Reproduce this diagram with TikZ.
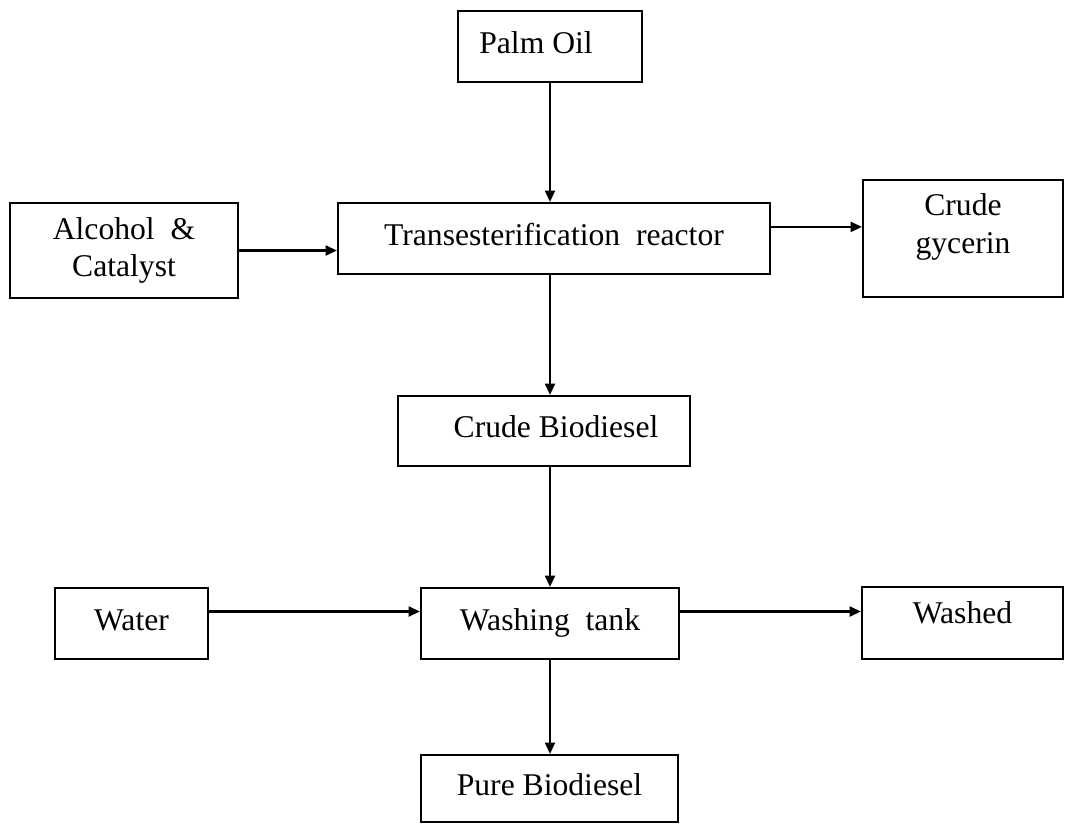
\documentclass[tikz,border=0pt]{standalone}
\usepackage{fontspec}
\setmainfont{Liberation Serif}
\usepackage{tikz}
\usetikzlibrary{arrows.meta, calc, positioning}
\tikzstyle{stage} = [rectangle, draw=black, line width=1.5pt, align=center, font=\fontsize{22.5}{26.5}\selectfont]
\tikzstyle{oneline} = [stage, text height=0.95em, text depth=0em]
\tikzstyle{flow} = [line width=1.6pt, -{Triangle[length=8pt, width=7pt]}]

\begin{document}
\begin{tikzpicture}
    \useasboundingbox (0,0) rectangle (26.625,-20.6);
    % feed and reactor
    \node[oneline, minimum width=4.6cm, minimum height=1.775cm] (oil) at (13.75,-1.1625) {Palm Oil\hspace*{0.7cm}};
    \node[stage, minimum width=5.7cm, minimum height=2.375cm] (alcohol) at (3.1,-6.2625) {Alcohol\ \ \&\\Catalyst};
    \node[oneline, minimum width=10.8cm, minimum height=1.775cm] (reactor) at (13.85,-5.9625) {Transesterification\ \ reactor};
    \node[stage, minimum width=5cm, minimum height=2.925cm, text depth=0.75cm] (glycerin) at (24.075,-5.9625) {Crude\\gycerin};
    % products
    \node[oneline, minimum width=7.3cm, minimum height=1.75cm] (crude) at (13.6,-10.775) {\hspace*{0.6cm}Crude Biodiesel};
    \node[oneline, minimum width=3.825cm, minimum height=1.775cm] (water) at (3.2875,-15.5875) {Water};
    \node[oneline, minimum width=6.45cm, minimum height=1.775cm] (washing) at (13.75,-15.5875) {Washing\ \ tank};
    \node[oneline, minimum width=5.025cm, minimum height=1.8cm, text depth=0.33cm] (washed) at (24.0625,-15.575) {Washed};
    \node[oneline, minimum width=6.425cm, minimum height=1.675cm] (pure) at (13.7375,-19.7125) {Pure Biodiesel};

    \coordinate (glyout) at ($(reactor.east)+(0,0.29)$);
    \coordinate (washin) at ($(water.east)+(0,0.3)$);

    \draw[flow] (oil.south) -- (oil.south |- reactor.north);
    \draw[flow] (alcohol.east) -- (reactor.west |- alcohol.east);
    \draw[flow] (glyout) -- (glycerin.west |- glyout);
    \draw[flow] (oil.south |- reactor.south) -- (oil.south |- crude.north);
    \draw[flow] (oil.south |- crude.south) -- (oil.south |- washing.north);
    \draw[flow] (washin) -- (washing.west |- washin);
    \draw[flow] (washing.east |- washin) -- (washed.west |- washin);
    \draw[flow] (washing.south) -- (washing.south |- pure.north);
\end{tikzpicture}
\end{document}
